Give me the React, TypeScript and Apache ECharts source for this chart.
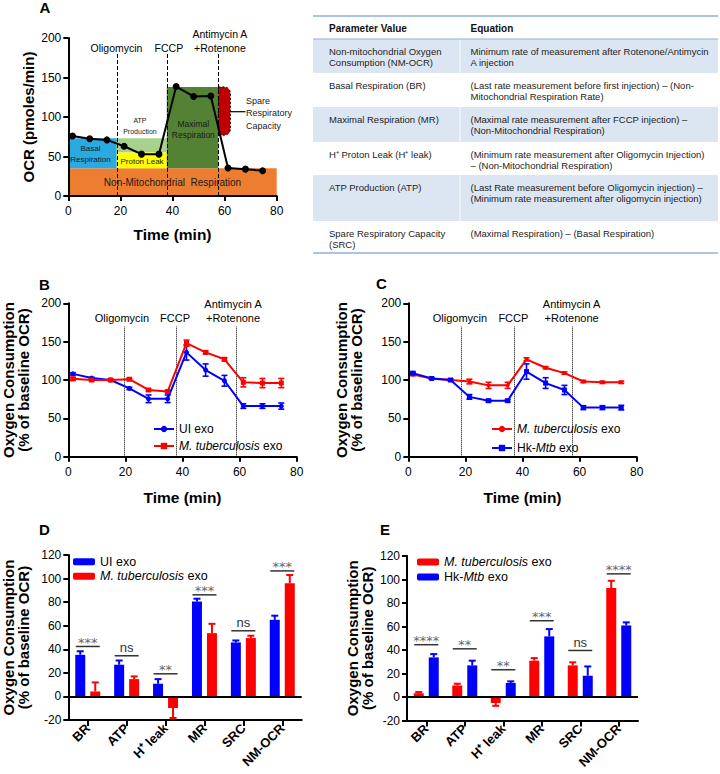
import React, { useEffect, useRef } from "react";
import * as echarts from "echarts";

const FONT = "'Liberation Sans', Arial, Helvetica, sans-serif";
const BLUE = "#0000ff";
const RED = "#ff0000";

// ---------- Panel A data ----------
const timeMin = [1.6, 8.2, 14.8, 21.4, 28.1, 34.8, 41.4, 48.1, 54.7, 61.3, 68.0, 74.6];
const ocrA = [76, 72.5, 71, 63, 53, 53, 138.5, 126, 126.5, 35.5, 34, 32];
const injectionsA = [18.6, 37.8, 57.6];
const injectionLabelXA = [18.5, 38.6, 58.2];
const injectionNames = ["Oligomycin", "FCCP", "Antimycin A\n+Rotenone"];
const regionX0 = [0, 0, 18.6, 18.6, 37.8, 57.6];
const regionX1 = [80, 18.6, 37.8, 37.8, 57.6, 62.2];
const regionY0 = [0, 35, 55, 35, 35, 77];
const regionY1 = [35, 73, 73, 55, 138, 138];
const regionTexts = ["Non-Mitochondrial  Respiration", "Basal\nRespiration", "ATP\nProduction", "Proton Leak", "Maximal\nRespiration", "Spare\nRespiratory\nCapacity"];
const regionTextX = [40, 8.5, 27.5, 28.3, 48, 68.2];
const regionTextY = [16.5, 53, 88.5, 43.5, 84, 105];
const spareConnector = [62.2, 68.0, 106.7];

// ---------- Panel B data ----------
const uiExoB = [108, 102.5, 100, 89, 75.5, 75.5, 136, 113, 99, 66, 66, 66];
const uiExoBErr = [1.5, 1, 1, 1.5, 5, 5, 10, 8, 7, 3, 3, 4];
const mtbB = [101.5, 100, 100, 101, 87, 85, 148, 136, 127, 97, 96, 96];
const mtbBErr = [2, 1.5, 1, 1.5, 1.5, 1.5, 4, 2, 2, 6, 6, 6];
const injectionsB = [19.5, 37.7, 58.7];
const injectionLabelXB = [18.8, 37.4, 57.7];

// ---------- Panel C data ----------
const mtbC = [107, 102, 100, 98, 93, 93, 127, 116, 109, 98, 97, 97];
const mtbCErr = [1.5, 1, 1, 3, 4, 4, 2, 1.5, 1.5, 1.5, 1.5, 1.5];
const hkC = [109, 102, 100, 78, 73, 73, 111, 96, 87, 64, 64, 64];
const hkCErr = [1.5, 1, 1, 3, 1.5, 1.5, 10, 7, 6, 2.5, 2.5, 3];
const injectionsC = [18.7, 37.2, 57.4];
const injectionLabelXC = [18.1, 36.8, 57.2];

// ---------- Panels D / E data ----------
const paramCats = ["BR", "ATP", "H\u207A leak", "MR", "SRC", "NM-OCR"];
const uiD = [35.3, 26.9, 10.8, 80.6, 45.8, 65];
const uiDErr = [3, 3.6, 3.9, 2.3, 1.7, 3.5];
const mtbD = [4.2, 14.7, -9.8, 53.7, 49.5, 96];
const mtbDErr = [7.7, 2.3, 8.5, 7.9, 2, 7];
const sigD = ["***", "ns", "**", "***", "ns", "***"];
const sigDY = [42.4, 34.5, 19.2, 86.2, 55.7, 106.5];

const mtbE = [3.2, 9.8, -5.1, 30.9, 26.9, 92.7];
const mtbEErr = [1, 1.5, 2.4, 2.2, 2.6, 6.2];
const hkE = [33.7, 26.9, 11.9, 51.6, 18.1, 60.9];
const hkEErr = [2.8, 4, 1.4, 6.2, 7.9, 2.6];
const sigE = ["****", "**", "**", "***", "ns", "****"];
const sigEY = [44.5, 41, 23.2, 64.9, 39.6, 104.8];

// ---------- Table ----------
const tableHeader = ["Parameter Value", "Equation"];
const tableParams = [
  "Non-mitochondrial Oxygen\nConsumption (NM-OCR)",
  "Basal Respiration (BR)",
  "Maximal Respiration (MR)",
  "H\u207A Proton Leak (H\u207A leak)",
  "ATP Production (ATP)",
  "Spare Respiratory Capacity\n(SRC)",
];
const tableEquations = [
  "Minimum rate of measurement after Rotenone/Antimycin\nA injection",
  "(Last rate measurement before first injection) \u2013 (Non-\nMitochondrial Respiration Rate)",
  "(Maximal rate measurement after FCCP injection) \u2013\n(Non-Mitochondrial Respiration)",
  "(Minimum rate measurement after Oligomycin Injection)\n\u2013 (Non-Mitochondrial Respiration)",
  "(Last Rate measurement before Oligomycin injection) \u2013\n(Minimum rate measurement after oligomycin injection)",
  "(Maximal Respiration) \u2013 (Basal Respiration)",
];

// ---------- styles ----------
const regionFill = ["#ed7d31", "#29aae1", "#a9d18e", "#ffff00", "#548235", "#c00000"];
const regionTextSize = [10, 8, 7, 8, 8.5, 9];
const regionTextLH = [12, 10.7, 11.5, 10, 11.4, 12.5];

function txt(extra: any) {
  const s: any = { fill: "#000", fontFamily: FONT, fontSize: 11, ...extra };
  if (s.align) s.textAlign = s.align;
  if (s.verticalAlign) s.textVerticalAlign = s.verticalAlign;
  return s;
}

function textSeries(grid: number, xs: number[], ys: number[], texts: string[], styleFn: (i: number) => any, extra?: (i: number, p: number[], api: any) => any[]) {
  return {
    type: "custom",
    xAxisIndex: grid,
    yAxisIndex: grid,
    silent: true,
    z: 6,
    clip: false,
    data: xs.map((x, i) => [x, ys[i]]),
    encode: { x: 0, y: 1 },
    renderItem: (params: any, api: any) => {
      const i = params.dataIndex;
      const p = api.coord([api.value(0), api.value(1)]);
      const children: any[] = [
        { type: "text", x: p[0], y: p[1], style: txt({ text: texts[i], ...styleFn(i) }) },
      ];
      if (extra) children.push(...extra(i, p, api));
      return { type: "group", children };
    },
  };
}

function lineErrSeries(grid: number, xs: number[], vals: number[], errs: number[], color: string) {
  return {
    type: "custom",
    xAxisIndex: grid,
    yAxisIndex: grid,
    silent: true,
    z: 4,
    data: xs.map((x, i) => [x, vals[i], errs[i]]),
    encode: { x: 0, y: 1 },
    renderItem: (params: any, api: any) => {
      const x = api.value(0), v = api.value(1), e = api.value(2);
      const hi = api.coord([x, v + e]);
      const lo = api.coord([x, v - e]);
      const st = { stroke: color, lineWidth: 1.6 };
      return {
        type: "group",
        children: [
          { type: "line", shape: { x1: hi[0], y1: hi[1], x2: lo[0], y2: lo[1] }, style: st },
          { type: "line", shape: { x1: hi[0] - 3, y1: hi[1], x2: hi[0] + 3, y2: hi[1] }, style: st },
          { type: "line", shape: { x1: lo[0] - 3, y1: lo[1], x2: lo[0] + 3, y2: lo[1] }, style: st },
        ],
      };
    },
  };
}

const BAR_W = 10;
const BAR_OFF = 7.5;

function barErrSeries(grid: number, vals: number[], errs: number[], color: string, offset: number) {
  return {
    type: "custom",
    xAxisIndex: grid,
    yAxisIndex: grid,
    silent: true,
    z: 4,
    data: vals.map((v, i) => [i, v, errs[i]]),
    encode: { x: 0, y: 1 },
    renderItem: (params: any, api: any) => {
      const i = api.value(0), v = api.value(1), e = api.value(2);
      const dir = v < 0 ? -1 : 1;
      const p0 = api.coord([i, v]);
      const p1 = api.coord([i, v + dir * e]);
      const x = p0[0] + offset;
      const st = { stroke: color, lineWidth: 2 };
      return {
        type: "group",
        children: [
          { type: "line", shape: { x1: x, y1: p0[1], x2: x, y2: p1[1] }, style: st },
          { type: "line", shape: { x1: x - 3.5, y1: p1[1], x2: x + 3.5, y2: p1[1] }, style: st },
        ],
      };
    },
  };
}

function sigSeries(grid: number, ys: number[], texts: string[]) {
  return {
    type: "custom",
    xAxisIndex: grid,
    yAxisIndex: grid,
    silent: true,
    z: 5,
    clip: false,
    data: ys.map((y, i) => [i, y]),
    encode: { x: 0, y: 1 },
    renderItem: (params: any, api: any) => {
      const i = params.dataIndex;
      const p = api.coord([api.value(0), api.value(1)]);
      const t = texts[i];
      const isNs = t === "ns";
      return {
        type: "group",
        children: [
          { type: "line", shape: { x1: p[0] - 12, y1: p[1], x2: p[0] + 12, y2: p[1] }, style: { stroke: "#333", lineWidth: 1.5 } },
          {
            type: "text",
            x: p[0],
            y: p[1] + (isNs ? -8 : -4),
            style: txt({
              text: t,
              align: "center",
              verticalAlign: "middle",
              fontSize: 13,
              fontFamily: isNs ? FONT : "'DejaVu Sans', sans-serif",
              fill: isNs ? "#333" : "#666",
            }),
          },
        ],
      };
    },
  };
}

const axisLineStyle = { show: true, onZero: false, lineStyle: { color: "#000", width: 2 } };
const tickStyle = { show: true, length: 5, lineStyle: { color: "#000", width: 2 } };
const labelStyle = { color: "#000", fontSize: 12, fontFamily: FONT };
const nameStyle = { color: "#000", fontSize: 15, fontWeight: "bold", fontFamily: FONT, lineHeight: 15 };

function timeAxis(grid: number, gap: number) {
  return {
    gridIndex: grid,
    type: "value",
    min: 0,
    max: 80,
    interval: 20,
    z: 10,
    name: "Time (min)",
    nameLocation: "middle",
    nameGap: gap,
    nameMoveOverlap: false,
    nameTextStyle: { ...nameStyle, fontSize: 15.5 },
    axisLine: axisLineStyle,
    axisTick: tickStyle,
    axisLabel: { ...labelStyle, margin: 9 },
    splitLine: { show: false },
  };
}

function valAxis(grid: number, min: number, max: number, interval: number, name: string, gap: number) {
  return {
    gridIndex: grid,
    type: "value",
    min,
    max,
    interval,
    z: 10,
    name,
    nameLocation: "middle",
    nameRotate: 90,
    nameGap: gap,
    nameMoveOverlap: false,
    nameTextStyle: nameStyle,
    axisLine: axisLineStyle,
    axisTick: tickStyle,
    axisLabel: { ...labelStyle, margin: 7 },
    splitLine: { show: false },
  };
}

function catAxis(grid: number) {
  return {
    gridIndex: grid,
    type: "category",
    data: paramCats,
    z: 10,
    axisLine: axisLineStyle,
    axisTick: { ...tickStyle, length: 6, alignWithLabel: true },
    axisLabel: { color: "#000", fontSize: 13, fontWeight: "bold", fontFamily: FONT, rotate: 45, margin: 6, interval: 0 },
    splitLine: { show: false },
  };
}

function injMarkLine(xs: number[], top: number, type: string) {
  return {
    silent: true,
    symbol: ["none", "none"],
    label: { show: false },
    lineStyle: { color: "#000", width: 1, type },
    emphasis: { disabled: true },
    data: xs.map((x) => [{ coord: [x, 0] }, { coord: [x, top] }]),
  };
}

const legendFmt = (name: string) => {
  const n = name.split("#")[0];
  if (n === "M. tuberculosis exo") return "{i|M. tuberculosis} exo";
  if (n === "Hk-Mtb exo") return "Hk-{i|Mtb} exo";
  return n;
};

function legend(left: number, top: number, names: string[], itemWidth: number, itemHeight: number, gap: number, fs: number) {
  return {
    orient: "vertical",
    left,
    top,
    padding: 0,
    itemWidth,
    itemHeight,
    itemGap: gap,
    selectedMode: false,
    data: names,
    formatter: legendFmt,
    textStyle: {
      color: "#000",
      fontSize: fs,
      fontFamily: FONT,
      lineHeight: 14,
      rich: { i: { fontStyle: "italic", fontSize: fs, fontFamily: FONT, color: "#000", lineHeight: 14 } },
    },
  };
}

function lineSeries(name: string, grid: number, vals: number[], color: string, symbol: string, size: number, extra?: any) {
  return {
    name,
    type: "line",
    xAxisIndex: grid,
    yAxisIndex: grid,
    data: timeMin.map((t, i) => [t, vals[i]]),
    symbol,
    symbolSize: size,
    z: 5,
    itemStyle: { color },
    lineStyle: { color, width: 2 },
    emphasis: { disabled: true },
    ...(extra || {}),
  };
}

function barSeries(name: string, grid: number, vals: number[], color: string, extra?: any) {
  return {
    name,
    type: "bar",
    xAxisIndex: grid,
    yAxisIndex: grid,
    data: vals,
    barWidth: BAR_W,
    barGap: "50%",
    z: 3,
    itemStyle: { color },
    emphasis: { disabled: true },
    ...(extra || {}),
  };
}

function buildOption() {
  const injStyleA = (i: number) => ({ align: "center", verticalAlign: "bottom", fontSize: 10.5, lineHeight: 13.5 });
  const injStyleBC = (i: number) => ({ align: "center", verticalAlign: "bottom", fontSize: 11, lineHeight: 14.5 });

  const graphics: any[] = [];
  // table
  const tL = 313, tR = 718, split = 460;
  const rowTops = [39, 73, 107, 142, 175, 221, 253];
  [0, 2, 4].forEach((r) => {
    graphics.push({ type: "rect", shape: { x: tL, y: rowTops[r], width: split - tL - 0.5, height: rowTops[r + 1] - rowTops[r] }, style: { fill: "#dce6f2" } });
    graphics.push({ type: "rect", shape: { x: split + 0.5, y: rowTops[r], width: tR - split - 0.5, height: rowTops[r + 1] - rowTops[r] }, style: { fill: "#dce6f2" } });
  });
  [16, 39, 253].forEach((y, k) => {
    graphics.push({ type: "line", shape: { x1: tL, y1: y, x2: tR, y2: y }, style: { stroke: "#8eb1d9", lineWidth: k === 1 ? 1 : 1.5 } });
  });
  graphics.push({ type: "text", x: 329, y: 28, style: txt({ text: tableHeader[0], fontSize: 10, fontWeight: "bold", fill: "#111", verticalAlign: "middle", align: "left" }) });
  graphics.push({ type: "text", x: 470.5, y: 28, style: txt({ text: tableHeader[1], fontSize: 10, fontWeight: "bold", fill: "#111", verticalAlign: "middle", align: "left" }) });
  tableParams.forEach((p, r) => {
    graphics.push({ type: "text", x: 329, y: rowTops[r] + 6.5, style: txt({ text: p, fontSize: 9.5, lineHeight: 11, fill: "#222", verticalAlign: "top", align: "left" }) });
    graphics.push({ type: "text", x: 470.5, y: rowTops[r] + 6.5, style: txt({ text: tableEquations[r], fontSize: 9.5, lineHeight: 11, fill: "#222", verticalAlign: "top", align: "left" }) });
  });
  // panel letters
  const letters = [["A", 45, 7], ["B", 44.5, 284], ["C", 381.5, 283.5], ["D", 44.5, 529], ["E", 385, 529]];
  letters.forEach(([t, x, y]) => {
    graphics.push({ type: "text", x, y, style: txt({ text: t, fontSize: 15, fontWeight: "bold", align: "center", verticalAlign: "middle" }) });
  });

  const series: any[] = [];

  // ---- A ----
  series.push({
    type: "custom",
    xAxisIndex: 0,
    yAxisIndex: 0,
    silent: true,
    z: 1,
    data: regionX0.map((x0, i) => [x0, regionX1[i], regionY0[i], regionY1[i]]),
    encode: { x: [0, 1], y: [2, 3] },
    renderItem: (params: any, api: any) => {
      const i = params.dataIndex;
      const p0 = api.coord([api.value(0), api.value(2)]);
      const p1 = api.coord([api.value(1), api.value(3)]);
      const last = i === regionX0.length - 1;
      return {
        type: "rect",
        shape: { x: p0[0], y: p1[1], width: p1[0] - p0[0], height: p0[1] - p1[1], r: last ? [0, 6, 6, 0] : 0 },
        style: last
          ? { fill: regionFill[i], stroke: "#000", lineWidth: 1, lineDash: [2, 2] }
          : { fill: regionFill[i] },
      };
    },
  });
  series.push(lineSeries("OCR", 0, ocrA, "#000", "circle", 7, { markLine: injMarkLine(injectionsA, 182, "dashed"), z: 4 }));
  series.push(
    textSeries(
      0,
      regionTextX,
      regionTextY,
      regionTexts,
      (i) => ({
        align: i === 5 ? "left" : "center",
        verticalAlign: "middle",
        fontSize: regionTextSize[i],
        lineHeight: regionTextLH[i],
        fill: "#1a1a1a",
      }),
      (i, p, api) => {
        if (i !== 5) return [];
        const a = api.coord([spareConnector[0], spareConnector[2]]);
        const b = api.coord([spareConnector[1], spareConnector[2]]);
        return [{ type: "line", shape: { x1: a[0], y1: a[1], x2: b[0], y2: b[1] }, style: { stroke: "#000", lineWidth: 1.2 } }];
      }
    )
  );
  series.push(textSeries(0, injectionLabelXA, injectionsA.map(() => 179), injectionNames, injStyleA));

  // ---- B ----
  series.push(lineSeries("UI exo#B", 1, uiExoB, BLUE, "circle", 5, { markLine: injMarkLine(injectionsB, 170, "dotted") }));
  series.push(lineSeries("M. tuberculosis exo#B", 1, mtbB, RED, "rect", 5));
  series.push(lineErrSeries(1, timeMin, uiExoB, uiExoBErr, BLUE));
  series.push(lineErrSeries(1, timeMin, mtbB, mtbBErr, RED));
  series.push(textSeries(1, injectionLabelXB, injectionsB.map(() => 171), injectionNames, injStyleBC));

  // ---- C ----
  series.push(lineSeries("M. tuberculosis exo#C", 2, mtbC, RED, "circle", 4, { markLine: injMarkLine(injectionsC, 170, "dotted") }));
  series.push(lineSeries("Hk-Mtb exo#C", 2, hkC, BLUE, "rect", 5));
  series.push(lineErrSeries(2, timeMin, mtbC, mtbCErr, RED));
  series.push(lineErrSeries(2, timeMin, hkC, hkCErr, BLUE));
  series.push(textSeries(2, injectionLabelXC, injectionsC.map(() => 171), injectionNames, injStyleBC));

  const zeroLine = {
    silent: true,
    symbol: ["none", "none"],
    label: { show: false },
    lineStyle: { color: "#000", width: 2, type: "solid" },
    emphasis: { disabled: true },
    data: [{ yAxis: 0 }],
  };

  // ---- D ----
  series.push(barSeries("UI exo#D", 3, uiD, BLUE, { markLine: zeroLine }));
  series.push(barSeries("M. tuberculosis exo#D", 3, mtbD, RED));
  series.push(barErrSeries(3, uiD, uiDErr, BLUE, -BAR_OFF));
  series.push(barErrSeries(3, mtbD, mtbDErr, RED, BAR_OFF));
  series.push(sigSeries(3, sigDY, sigD));

  // ---- E ----
  series.push(barSeries("M. tuberculosis exo#E", 4, mtbE, RED, { markLine: zeroLine }));
  series.push(barSeries("Hk-Mtb exo#E", 4, hkE, BLUE));
  series.push(barErrSeries(4, mtbE, mtbEErr, RED, -BAR_OFF));
  series.push(barErrSeries(4, hkE, hkEErr, BLUE, BAR_OFF));
  series.push(sigSeries(4, sigEY, sigE));

  const yName = "Oxygen Consumption\n(% of baseline OCR)";

  return {
    animation: false,
    backgroundColor: "#fff",
    textStyle: { fontFamily: FONT },
    grid: [
      { left: 68.3, top: 38, width: 208.4, height: 158, outerBoundsMode: "none" },
      { left: 68.3, top: 303.3, width: 228.4, height: 153.4, outerBoundsMode: "none" },
      { left: 408.3, top: 303.3, width: 228.4, height: 153.4, outerBoundsMode: "none" },
      { left: 68.3, top: 555, width: 233.4, height: 165, outerBoundsMode: "none" },
      { left: 407, top: 556, width: 231, height: 164.5, outerBoundsMode: "none" },
    ],
    xAxis: [timeAxis(0, 31), timeAxis(1, 33), timeAxis(2, 33), catAxis(3), catAxis(4)],
    yAxis: [
      valAxis(0, 0, 200, 50, "OCR (pmoles/min)", 32),
      valAxis(1, 0, 200, 50, yName, 37),
      valAxis(2, 0, 200, 50, yName, 44),
      valAxis(3, -20, 120, 20, yName, 37),
      valAxis(4, -20, 120, 20, yName, 32),
    ],
    legend: [
      legend(153, 422, ["UI exo#B", "M. tuberculosis exo#B"], 20, 8, 3, 12),
      legend(491, 422, ["M. tuberculosis exo#C", "Hk-Mtb exo#C"], 20, 8, 5, 12),
      legend(73, 554.7, ["UI exo#D", "M. tuberculosis exo#D"], 22, 7, 0.5, 12.5),
      legend(417, 555, ["M. tuberculosis exo#E", "Hk-Mtb exo#E"], 22, 7, 1, 12.5),
    ],
    graphic: { elements: graphics },
    series,
  };
}

export default function App() {
  const ref = useRef<HTMLDivElement>(null);
  useEffect(() => {
    document.body.style.margin = "0";
    const chart = echarts.init(ref.current!, null, { renderer: "svg", width: 720, height: 774 });
    chart.setOption(buildOption() as any);
    return () => chart.dispose();
  }, []);
  return <div ref={ref} style={{ width: 720, height: 774, position: "absolute", left: 0, top: 0, background: "#fff" }} />;
}
